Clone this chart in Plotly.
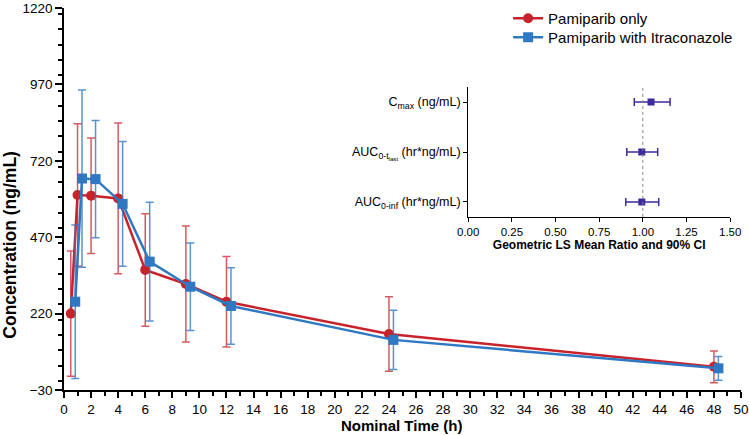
import plotly.graph_objects as go

# ---- main PK profile data ----
time_h = [0.5, 1, 2, 4, 6, 9, 12, 24, 48]
blue_shift = 0.33  # horizontal nudge used in the figure for the second series
pam_only_mean = [220, 608, 606, 597, 363, 317, 259, 153, 46]
pam_only_sd = [205, 233, 189, 247, 184, 190, 148, 122, 52]
pam_itra_mean = [259, 662, 660, 579, 390, 308, 245, 134, 41]
pam_itra_sd = [251, 290, 192, 204, 194, 143, 125, 97, 39]

# ---- inset forest data ----
params = ["C<sub>max</sub> (ng/mL)",
          "AUC<sub>0-t<sub>last</sub></sub> (hr*ng/mL)",
          "AUC<sub>0-inf</sub> (hr*ng/mL)"]
ratio = [1.047, 0.994, 0.994]
ci_low = [0.951, 0.908, 0.902]
ci_high = [1.156, 1.085, 1.091]
ratio_ticks = [0, 0.25, 0.5, 0.75, 1.0, 1.25, 1.5]

RED = "#c8232b"
BLUE = "#2f78c3"
PURPLE = "#3b2b9c"
FONT = "Liberation Sans, Arial, sans-serif"

fig = go.Figure()

fig.add_trace(go.Scatter(
    x=time_h, y=pam_only_mean, name="Pamiparib only",
    mode="lines+markers", legend="legend",
    line=dict(color=RED, width=2.5),
    marker=dict(symbol="circle", size=10, color=RED),
    error_y=dict(type="data", array=pam_only_sd, visible=True,
                 color="rgba(200,35,43,0.75)", thickness=1.5, width=4),
))
fig.add_trace(go.Scatter(
    x=[t + blue_shift for t in time_h], y=pam_itra_mean,
    name="Pamiparib with Itraconazole",
    mode="lines+markers", legend="legend2",
    line=dict(color=BLUE, width=2.5),
    marker=dict(symbol="square", size=10, color=BLUE),
    error_y=dict(type="data", array=pam_itra_sd, visible=True,
                 color="rgba(47,120,195,0.8)", thickness=1.5, width=4),
))

n = len(params)
ypos = [n - 1 - i for i in range(n)]
fig.add_trace(go.Scatter(
    x=ratio, y=ypos, xaxis="x2", yaxis="y2", mode="markers",
    showlegend=False,
    marker=dict(symbol="square", size=7, color=PURPLE),
    error_x=dict(type="data", symmetric=False,
                 array=[h - r for h, r in zip(ci_high, ratio)],
                 arrayminus=[r - l for r, l in zip(ratio, ci_low)],
                 color=PURPLE, thickness=1.5, width=4),
))

fig.add_shape(type="line", xref="x2", yref="y2 domain",
              x0=1.0, x1=1.0, y0=0, y1=1,
              line=dict(color="#888888", width=1, dash="dot"))

fig.add_annotation(text="<b>Nominal Time (h)</b>", xref="paper", yref="paper",
                   x=0.499, y=-0.094, xanchor="center", yanchor="middle",
                   showarrow=False, font=dict(size=15))
fig.add_annotation(text="<b>Concentration (ng/mL)</b>", xref="paper", yref="paper",
                   x=-0.080, y=0.380, xanchor="center", yanchor="middle",
                   textangle=-90, showarrow=False, font=dict(size=17.5))

legend_style = dict(xanchor="left", yanchor="top", font=dict(size=15),
                    bgcolor="rgba(0,0,0,0)", itemwidth=30)

fig.update_layout(
    width=749, height=435,
    margin=dict(l=64, r=8, t=8, b=45, autoexpand=False),
    paper_bgcolor="white", plot_bgcolor="white",
    font=dict(family=FONT, color="black", size=13.5),
    showlegend=True,
    legend=dict(x=0.656, y=1.0157, **legend_style),
    legend2=dict(x=0.656, y=0.966, **legend_style),
    xaxis=dict(range=[0, 50], tickmode="linear", tick0=0, dtick=2,
               showline=True, linecolor="black", linewidth=1.5,
               ticks="outside", ticklen=6, tickwidth=1.5, tickcolor="black",
               minor=dict(dtick=1, ticks="outside", ticklen=4, tickwidth=1.5, tickcolor="black"),
               showgrid=False, zeroline=False, automargin=False),
    yaxis=dict(range=[-30, 1220], tickmode="linear", tick0=-30, dtick=250,
               showline=True, linecolor="black", linewidth=1.5,
               ticks="outside", ticklen=7, tickwidth=1.5, tickcolor="black",
               minor=dict(dtick=50, ticks="outside", ticklen=4, tickwidth=1.5, tickcolor="black"),
               showgrid=False, zeroline=False, automargin=False),
    xaxis2=dict(domain=[0.597, 0.984], anchor="y2", range=[0, 1.5],
                tickmode="array", tickvals=ratio_ticks,
                ticktext=[f"{v:.2f}" for v in ratio_ticks],
                showline=True, linecolor="black", linewidth=1,
                ticks="outside", ticklen=4, tickwidth=1, tickcolor="black",
                tickfont=dict(size=11.5), showgrid=False, zeroline=False,
                automargin=False,
                title=dict(text="<b>Geometric LS Mean Ratio and 90% CI</b>",
                           font=dict(size=12), standoff=2)),
    yaxis2=dict(domain=[0.453, 0.793], anchor="x2", range=[-0.3, n - 0.7],
                tickmode="array", tickvals=ypos, ticktext=params,
                showline=True, linecolor="black", linewidth=1,
                ticks="outside", ticklen=4, tickwidth=1, tickcolor="black",
                tickfont=dict(size=12.5), showgrid=False, zeroline=False,
                automargin=False),
)

fig.write_html("out.html",
               config={"displayModeBar": False},
               post_script="document.body.style.margin='0';document.body.style.overflow='hidden';")
